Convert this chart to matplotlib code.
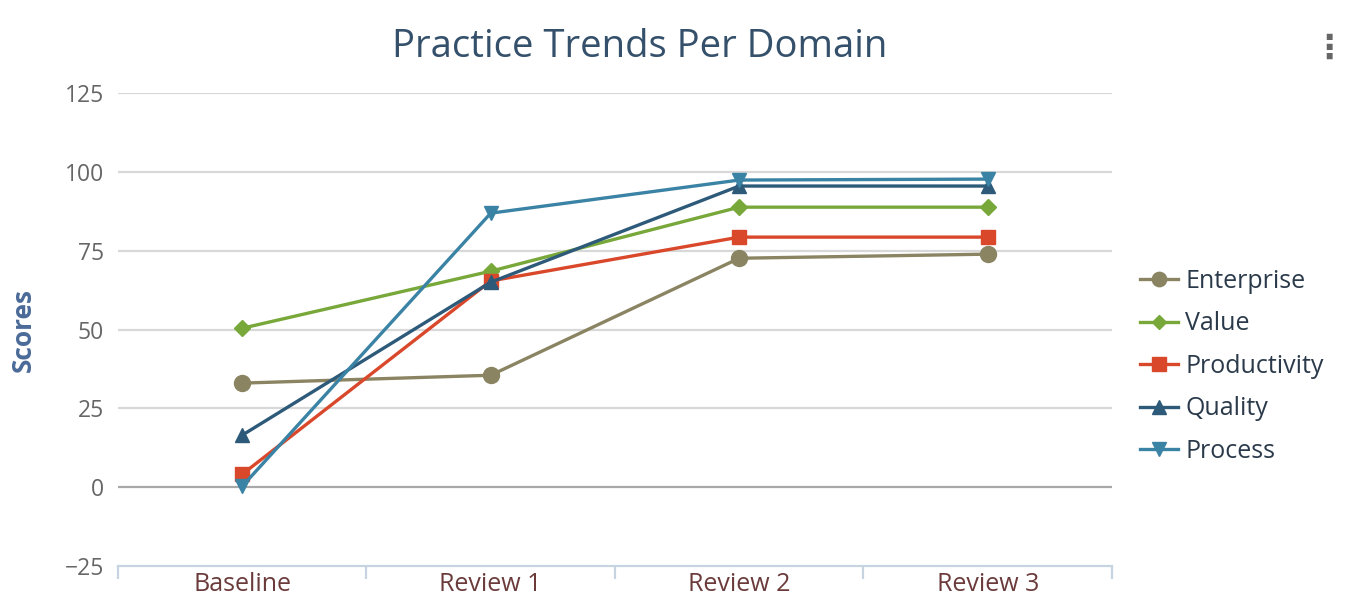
import matplotlib.pyplot as plt
import numpy as np

## Chart data.
categories = ['Baseline', 'Review 1', 'Review 2', 'Review 3']
series_names = ['Enterprise', 'Value', 'Productivity', 'Quality', 'Process']
enterprise = [33.0, 35.5, 72.6, 73.9]
value = [50.4, 68.5, 88.8, 88.8]
productivity = [4.1, 65.4, 79.3, 79.3]
quality = [16.5, 65.0, 95.5, 95.5]
process = [0.3, 86.9, 97.4, 97.7]
y_ticks = [-25, 0, 25, 50, 75, 100, 125]

## Styles for each series.
colors = ['#8a8462', '#78a83a', '#d9482b', '#2e5a7a', '#3b83a5']
markers = ['o', 'D', 's', '^', 'v']
marker_sizes = [11.5, 8, 10.5, 10.5, 10.5]

plt.rcParams['font.family'] = ['Open Sans', 'DejaVu Sans']

fig = plt.figure(figsize=(13.47, 6.04), dpi=100)
ax = fig.add_axes([0.0876, 0.0629, 0.7379, 0.7831])

x = np.arange(len(categories))
all_series = [enterprise, value, productivity, quality, process]
for name, vals, c, m, ms in zip(series_names, all_series, colors, markers, marker_sizes):
  ax.plot(x, vals, color=c, marker=m, markersize=ms, linewidth=2.4,
          label=name, zorder=3)

## Axes limits and grid.
ax.set_xlim(-0.5, 3.5)
ax.set_ylim(-25, 125)
ax.set_yticks(y_ticks)
ax.set_yticklabels([str(t).replace('-', '\u2212') for t in y_ticks])
for t in y_ticks:
  if t == -25:
    continue
  ax.axhline(t, color='#a8a8a8' if t == 0 else '#d8d8d8', linewidth=1.6,
             zorder=1)

for side in ['top', 'right', 'left']:
  ax.spines[side].set_visible(False)
ax.spines['bottom'].set_color('#c6d3e1')
ax.spines['bottom'].set_linewidth(1.6)

ax.tick_params(axis='y', length=0, labelsize=16.5, labelcolor='#666666', pad=10)
ax.set_xticks(x)
ax.set_xticklabels(categories)
ax.tick_params(axis='x', length=0, labelsize=18, labelcolor='#6b3b3b', pad=4)
ax.set_xticks(np.arange(-0.5, 4, 1.0), minor=True)
ax.tick_params(axis='x', which='minor', length=9, width=1.6, color='#c6d3e1')

ax.set_ylabel('Scores', fontsize=19, color='#4a6a98', fontweight='bold',
              labelpad=20)

fig.text(0.475, 0.922, 'Practice Trends Per Domain', ha='center', va='center',
         fontsize=27.5, color='#34506b')

leg = ax.legend(loc='center left', bbox_to_anchor=(1.006, 0.422), frameon=False,
                fontsize=18, handlelength=1.5, handletextpad=0.3,
                labelspacing=0.7, markerscale=0.9)
for text in leg.get_texts():
  text.set_color('#2b3a4a')

## Menu icon at the top right corner.
fig.text(0.999, 0.92, '\u22ee', ha='right', va='center', fontsize=24,
         color='#666666', family='DejaVu Sans', fontweight='bold')

fig.savefig('out.png', dpi=100)
